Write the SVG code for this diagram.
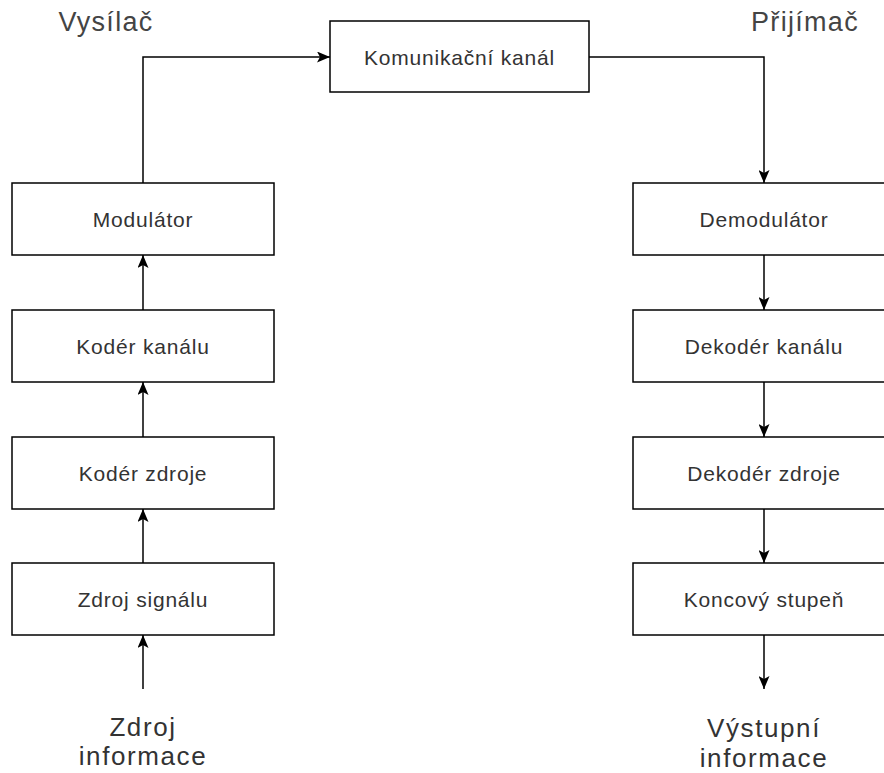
<svg xmlns="http://www.w3.org/2000/svg" width="884" height="773" viewBox="0 0 884 773">
  <style>
    .box { fill: #ffffff; stroke: #000000; stroke-width: 1.5; }
    .lbl { font-family: "Liberation Sans", Arial, sans-serif; font-size: 21px; letter-spacing: 0.8px; fill: #333333; text-anchor: middle; }
    .title { font-family: "Liberation Sans", Arial, sans-serif; font-size: 27px; letter-spacing: 1.3px; fill: #444444; text-anchor: middle; }
    .big { font-family: "Liberation Sans", Arial, sans-serif; font-size: 26px; letter-spacing: 1.6px; fill: #333333; text-anchor: middle; }
    .edge { fill: none; stroke: #000000; stroke-width: 1.5; marker-end: url(#arrow); }
  </style>
  <defs>
    <marker id="arrow" markerUnits="userSpaceOnUse" viewBox="0 0 13 11" markerWidth="13" markerHeight="11" refX="13" refY="5.5" orient="auto">
      <path d="M0,0 L13,5.5 L0,11 L3,5.5 Z" fill="#000000"/>
    </marker>
  </defs>
  <rect width="884" height="773" fill="#ffffff"/>

  <!-- section titles -->
  <text class="title" x="106" y="31">Vysílač</text>
  <text class="title" x="805" y="31">Přijímač</text>

  <!-- transmitter chain -->
  <g id="modulator">
    <rect class="box" x="12" y="183" width="262" height="72"/>
    <text class="lbl" x="143" y="227">Modulátor</text>
  </g>
  <g id="koder-kanalu">
    <rect class="box" x="12" y="310" width="262" height="72"/>
    <text class="lbl" x="143" y="354">Kodér kanálu</text>
  </g>
  <g id="koder-zdroje">
    <rect class="box" x="12" y="437" width="262" height="72"/>
    <text class="lbl" x="143" y="481">Kodér zdroje</text>
  </g>
  <g id="zdroj-signalu">
    <rect class="box" x="12" y="563" width="262" height="72"/>
    <text class="lbl" x="143" y="607">Zdroj signálu</text>
  </g>
  <g id="zdroj-informace">
    <text class="big" x="143" y="736">Zdroj</text>
    <text class="big" x="143" y="765">informace</text>
  </g>

  <!-- channel -->
  <g id="kanal">
    <rect class="box" x="330" y="21" width="259" height="71"/>
    <text class="lbl" x="459.5" y="65">Komunikační kanál</text>
  </g>

  <!-- receiver chain -->
  <g id="demodulator">
    <rect class="box" x="633" y="183" width="262" height="72"/>
    <text class="lbl" x="764" y="227">Demodulátor</text>
  </g>
  <g id="dekoder-kanalu">
    <rect class="box" x="633" y="310" width="262" height="72"/>
    <text class="lbl" x="764" y="354">Dekodér kanálu</text>
  </g>
  <g id="dekoder-zdroje">
    <rect class="box" x="633" y="437" width="262" height="72"/>
    <text class="lbl" x="764" y="481">Dekodér zdroje</text>
  </g>
  <g id="koncovy-stupen">
    <rect class="box" x="633" y="563" width="262" height="72"/>
    <text class="lbl" x="764" y="607">Koncový stupeň</text>
  </g>
  <g id="vystupni-informace">
    <text class="big" x="764" y="737">Výstupní</text>
    <text class="big" x="764" y="767">informace</text>
  </g>

  <!-- connectors -->
  <g id="connectors">
    <path class="edge" d="M143,689 V635"/>
    <path class="edge" d="M143,563 V509"/>
    <path class="edge" d="M143,437 V382"/>
    <path class="edge" d="M143,310 V255"/>
    <path class="edge" d="M143,183 V57 H330"/>
    <path class="edge" d="M589,57 H764 V183"/>
    <path class="edge" d="M764,255 V310"/>
    <path class="edge" d="M764,382 V437"/>
    <path class="edge" d="M764,509 V563"/>
    <path class="edge" d="M764,635 V689"/>
  </g>
</svg>
